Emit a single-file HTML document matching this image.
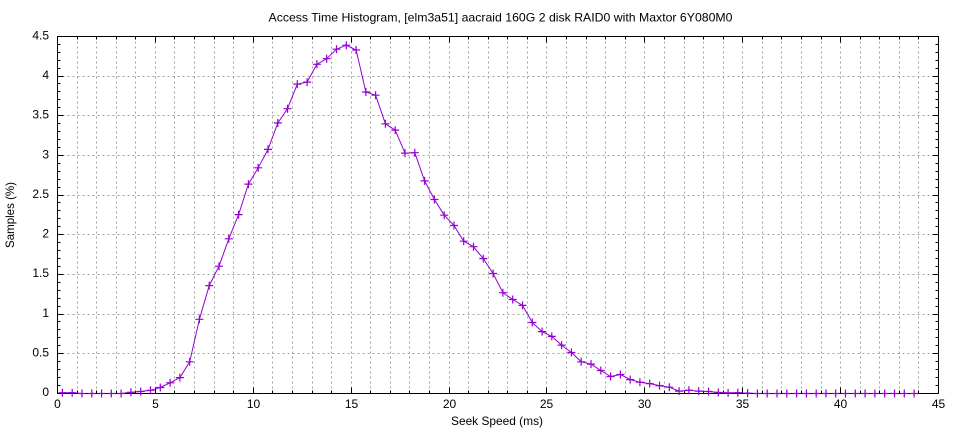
<!DOCTYPE html>
<html><head><meta charset="utf-8"><style>
html,body{margin:0;padding:0;background:#fff;}
svg{display:block;}
text{font-family:"Liberation Sans",sans-serif;font-size:12px;fill:#000;}
</style></head><body>
<svg width="960" height="432" viewBox="0 0 960 432" xmlns="http://www.w3.org/2000/svg">
<rect x="0" y="0" width="960" height="432" fill="#fff"/>
<!-- grid -->
<g stroke="#a0a0a0" stroke-width="1" stroke-dasharray="2,3" fill="none">
<path d="M77.5 36.5V393.5M96.5 36.5V393.5M116.5 36.5V393.5M135.5 36.5V393.5M155.5 36.5V393.5M174.5 36.5V393.5M194.5 36.5V393.5M214.5 36.5V393.5M233.5 36.5V393.5M253.5 36.5V393.5M272.5 36.5V393.5M292.5 36.5V393.5M312.5 36.5V393.5M331.5 36.5V393.5M351.5 36.5V393.5M370.5 36.5V393.5M390.5 36.5V393.5M409.5 36.5V393.5M429.5 36.5V393.5M449.5 36.5V393.5M468.5 36.5V393.5M488.5 36.5V393.5M507.5 36.5V393.5M527.5 36.5V393.5M546.5 36.5V393.5M566.5 36.5V393.5M586.5 36.5V393.5M605.5 36.5V393.5M625.5 36.5V393.5M644.5 36.5V393.5M664.5 36.5V393.5M684.5 36.5V393.5M703.5 36.5V393.5M723.5 36.5V393.5M742.5 36.5V393.5M762.5 36.5V393.5M781.5 36.5V393.5M801.5 36.5V393.5M821.5 36.5V393.5M840.5 36.5V393.5M860.5 36.5V393.5M879.5 36.5V393.5M899.5 36.5V393.5M918.5 36.5V393.5"/>
<path d="M57.5 353.5H938.5M57.5 314.5H938.5M57.5 274.5H938.5M57.5 234.5H938.5M57.5 195.5H938.5M57.5 155.5H938.5M57.5 115.5H938.5M57.5 76.5H938.5"/>
</g>
<!-- ticks -->
<g stroke="#000" stroke-width="1" fill="none">
<path d="M57.5 353.5h6M57.5 314.5h6M57.5 274.5h6M57.5 234.5h6M57.5 195.5h6M57.5 155.5h6M57.5 115.5h6M57.5 76.5h6
M938.5 353.5h-6M938.5 314.5h-6M938.5 274.5h-6M938.5 234.5h-6M938.5 195.5h-6M938.5 155.5h-6M938.5 115.5h-6M938.5 76.5h-6"/>
<path d="M57.5 385.5h3M57.5 377.5h3M57.5 369.5h3M57.5 361.5h3M57.5 345.5h3M57.5 337.5h3M57.5 329.5h3M57.5 321.5h3M57.5 306.5h3M57.5 298.5h3M57.5 290.5h3M57.5 282.5h3M57.5 266.5h3M57.5 258.5h3M57.5 250.5h3M57.5 242.5h3M57.5 226.5h3M57.5 218.5h3M57.5 210.5h3M57.5 202.5h3M57.5 187.5h3M57.5 179.5h3M57.5 171.5h3M57.5 163.5h3M57.5 147.5h3M57.5 139.5h3M57.5 131.5h3M57.5 123.5h3M57.5 107.5h3M57.5 99.5h3M57.5 91.5h3M57.5 83.5h3M57.5 68.5h3M57.5 60.5h3M57.5 52.5h3M57.5 44.5h3
M938.5 385.5h-3M938.5 377.5h-3M938.5 369.5h-3M938.5 361.5h-3M938.5 345.5h-3M938.5 337.5h-3M938.5 329.5h-3M938.5 321.5h-3M938.5 306.5h-3M938.5 298.5h-3M938.5 290.5h-3M938.5 282.5h-3M938.5 266.5h-3M938.5 258.5h-3M938.5 250.5h-3M938.5 242.5h-3M938.5 226.5h-3M938.5 218.5h-3M938.5 210.5h-3M938.5 202.5h-3M938.5 187.5h-3M938.5 179.5h-3M938.5 171.5h-3M938.5 163.5h-3M938.5 147.5h-3M938.5 139.5h-3M938.5 131.5h-3M938.5 123.5h-3M938.5 107.5h-3M938.5 99.5h-3M938.5 91.5h-3M938.5 83.5h-3M938.5 68.5h-3M938.5 60.5h-3M938.5 52.5h-3M938.5 44.5h-3"/>
<path d="M155.5 393.5v-6M253.5 393.5v-6M351.5 393.5v-6M449.5 393.5v-6M546.5 393.5v-6M644.5 393.5v-6M742.5 393.5v-6M840.5 393.5v-6
M155.5 36.5v6M253.5 36.5v6M351.5 36.5v6M449.5 36.5v6M546.5 36.5v6M644.5 36.5v6M742.5 36.5v6M840.5 36.5v6"/>
<path d="M77.5 393.5v-3M96.5 393.5v-3M116.5 393.5v-3M135.5 393.5v-3M174.5 393.5v-3M194.5 393.5v-3M214.5 393.5v-3M233.5 393.5v-3M272.5 393.5v-3M292.5 393.5v-3M312.5 393.5v-3M331.5 393.5v-3M370.5 393.5v-3M390.5 393.5v-3M409.5 393.5v-3M429.5 393.5v-3M468.5 393.5v-3M488.5 393.5v-3M507.5 393.5v-3M527.5 393.5v-3M566.5 393.5v-3M586.5 393.5v-3M605.5 393.5v-3M625.5 393.5v-3M664.5 393.5v-3M684.5 393.5v-3M703.5 393.5v-3M723.5 393.5v-3M762.5 393.5v-3M781.5 393.5v-3M801.5 393.5v-3M821.5 393.5v-3M860.5 393.5v-3M879.5 393.5v-3M899.5 393.5v-3M918.5 393.5v-3
M77.5 36.5v3M96.5 36.5v3M116.5 36.5v3M135.5 36.5v3M174.5 36.5v3M194.5 36.5v3M214.5 36.5v3M233.5 36.5v3M272.5 36.5v3M292.5 36.5v3M312.5 36.5v3M331.5 36.5v3M370.5 36.5v3M390.5 36.5v3M409.5 36.5v3M429.5 36.5v3M468.5 36.5v3M488.5 36.5v3M507.5 36.5v3M527.5 36.5v3M566.5 36.5v3M586.5 36.5v3M605.5 36.5v3M625.5 36.5v3M664.5 36.5v3M684.5 36.5v3M703.5 36.5v3M723.5 36.5v3M762.5 36.5v3M781.5 36.5v3M801.5 36.5v3M821.5 36.5v3M860.5 36.5v3M879.5 36.5v3M899.5 36.5v3M918.5 36.5v3"/>
</g>
<!-- series line -->
<polyline fill="none" stroke="#9400d3" stroke-width="1" stroke-linejoin="round" points="62.4,392.7 72.2,392.7 82.0,393.5 91.8,393.5 101.6,393.5 111.3,393.5 121.1,393.5 130.9,392.3 140.7,391.5 150.5,390.3 160.3,387.5 170.1,382.8 179.9,377.6 189.7,361.8 199.4,319.3 209.2,285.6 219.0,266.2 228.8,238.8 238.6,214.6 248.4,184.1 258.2,167.8 268.0,149.4 277.8,123.0 287.5,108.7 297.3,84.1 307.1,82.1 316.9,64.3 326.7,58.7 336.5,49.2 346.3,45.2 356.1,50.0 365.9,92.0 375.6,95.2 385.4,123.8 395.2,130.1 405.0,153.1 414.8,152.7 424.6,180.9 434.4,199.5 444.2,215.2 454.0,225.5 463.7,241.2 473.5,246.7 483.3,258.6 493.1,273.5 502.9,292.7 512.7,299.5 522.5,305.4 532.3,322.5 542.1,331.6 551.8,336.4 561.6,345.1 571.4,352.5 581.2,361.8 591.0,364.1 600.8,370.5 610.6,376.5 620.4,374.5 630.2,379.6 639.9,382.2 649.7,383.6 659.5,385.6 669.3,387.2 679.1,391.1 688.9,390.2 698.7,391.1 708.5,391.5 718.3,392.5 728.1,392.9 737.8,392.7 747.6,393.1 757.4,393.5 767.2,393.5 777.0,393.5 786.8,393.5 796.6,393.5 806.4,393.5 816.2,393.5 826.0,393.5 835.7,393.5 845.5,393.5 855.3,393.5 865.1,393.5 874.9,393.5 884.7,393.5 894.5,393.5 904.3,393.5 914.1,393.5"/>
<!-- border -->
<rect x="57.5" y="36.5" width="881" height="357" fill="none" stroke="#000" stroke-width="1"/>
<!-- markers -->
<path fill="none" stroke="#9400d3" stroke-width="1.2" d="M58.4 392.7h8M62.4 388.7v8M68.2 392.7h8M72.2 388.7v8M78.0 393.5h8M82.0 389.5v8M87.8 393.5h8M91.8 389.5v8M97.6 393.5h8M101.6 389.5v8M107.3 393.5h8M111.3 389.5v8M117.1 393.5h8M121.1 389.5v8M126.9 392.3h8M130.9 388.3v8M136.7 391.5h8M140.7 387.5v8M146.5 390.3h8M150.5 386.3v8M156.3 387.5h8M160.3 383.5v8M166.1 382.8h8M170.1 378.8v8M175.9 377.6h8M179.9 373.6v8M185.7 361.8h8M189.7 357.8v8M195.4 319.3h8M199.4 315.3v8M205.2 285.6h8M209.2 281.6v8M215.0 266.2h8M219.0 262.2v8M224.8 238.8h8M228.8 234.8v8M234.6 214.6h8M238.6 210.6v8M244.4 184.1h8M248.4 180.1v8M254.2 167.8h8M258.2 163.8v8M264.0 149.4h8M268.0 145.4v8M273.8 123.0h8M277.8 119.0v8M283.5 108.7h8M287.5 104.7v8M293.3 84.1h8M297.3 80.1v8M303.1 82.1h8M307.1 78.1v8M312.9 64.3h8M316.9 60.3v8M322.7 58.7h8M326.7 54.7v8M332.5 49.2h8M336.5 45.2v8M342.3 45.2h8M346.3 41.2v8M352.1 50.0h8M356.1 46.0v8M361.9 92.0h8M365.9 88.0v8M371.6 95.2h8M375.6 91.2v8M381.4 123.8h8M385.4 119.8v8M391.2 130.1h8M395.2 126.1v8M401.0 153.1h8M405.0 149.1v8M410.8 152.7h8M414.8 148.7v8M420.6 180.9h8M424.6 176.9v8M430.4 199.5h8M434.4 195.5v8M440.2 215.2h8M444.2 211.2v8M450.0 225.5h8M454.0 221.5v8M459.7 241.2h8M463.7 237.2v8M469.5 246.7h8M473.5 242.7v8M479.3 258.6h8M483.3 254.6v8M489.1 273.5h8M493.1 269.5v8M498.9 292.7h8M502.9 288.7v8M508.7 299.5h8M512.7 295.5v8M518.5 305.4h8M522.5 301.4v8M528.3 322.5h8M532.3 318.5v8M538.1 331.6h8M542.1 327.6v8M547.8 336.4h8M551.8 332.4v8M557.6 345.1h8M561.6 341.1v8M567.4 352.5h8M571.4 348.5v8M577.2 361.8h8M581.2 357.8v8M587.0 364.1h8M591.0 360.1v8M596.8 370.5h8M600.8 366.5v8M606.6 376.5h8M610.6 372.5v8M616.4 374.5h8M620.4 370.5v8M626.2 379.6h8M630.2 375.6v8M635.9 382.2h8M639.9 378.2v8M645.7 383.6h8M649.7 379.6v8M655.5 385.6h8M659.5 381.6v8M665.3 387.2h8M669.3 383.2v8M675.1 391.1h8M679.1 387.1v8M684.9 390.2h8M688.9 386.2v8M694.7 391.1h8M698.7 387.1v8M704.5 391.5h8M708.5 387.5v8M714.3 392.5h8M718.3 388.5v8M724.1 392.9h8M728.1 388.9v8M733.8 392.7h8M737.8 388.7v8M743.6 393.1h8M747.6 389.1v8M753.4 393.5h8M757.4 389.5v8M763.2 393.5h8M767.2 389.5v8M773.0 393.5h8M777.0 389.5v8M782.8 393.5h8M786.8 389.5v8M792.6 393.5h8M796.6 389.5v8M802.4 393.5h8M806.4 389.5v8M812.2 393.5h8M816.2 389.5v8M822.0 393.5h8M826.0 389.5v8M831.7 393.5h8M835.7 389.5v8M841.5 393.5h8M845.5 389.5v8M851.3 393.5h8M855.3 389.5v8M861.1 393.5h8M865.1 389.5v8M870.9 393.5h8M874.9 389.5v8M880.7 393.5h8M884.7 389.5v8M890.5 393.5h8M894.5 389.5v8M900.3 393.5h8M904.3 389.5v8M910.1 393.5h8M914.1 389.5v8"/>
<!-- y tick labels -->
<g text-anchor="end">
<text x="49" y="396">0</text>
<text x="49" y="356.5">0.5</text>
<text x="49" y="317">1</text>
<text x="49" y="277">1.5</text>
<text x="49" y="237.5">2</text>
<text x="49" y="198">2.5</text>
<text x="49" y="158.5">3</text>
<text x="49" y="118.5">3.5</text>
<text x="49" y="79">4</text>
<text x="49" y="39.5">4.5</text>
</g>
<!-- x tick labels -->
<g text-anchor="middle">
<text x="57.5" y="408">0</text>
<text x="155.5" y="408">5</text>
<text x="253.5" y="408">10</text>
<text x="351.5" y="408">15</text>
<text x="449.5" y="408">20</text>
<text x="546.5" y="408">25</text>
<text x="644.5" y="408">30</text>
<text x="742.5" y="408">35</text>
<text x="840.5" y="408">40</text>
<text x="938.5" y="408">45</text>
</g>
<text x="268.5" y="21.5" textLength="464" lengthAdjust="spacingAndGlyphs">Access Time Histogram, [elm3a51] aacraid 160G 2 disk RAID0 with Maxtor 6Y080M0</text>
<text x="451" y="425" textLength="92" lengthAdjust="spacingAndGlyphs">Seek Speed (ms)</text>
<text transform="translate(14,215) rotate(-90)" text-anchor="middle" textLength="66" lengthAdjust="spacingAndGlyphs">Samples (%)</text>
</svg>
</body></html>
